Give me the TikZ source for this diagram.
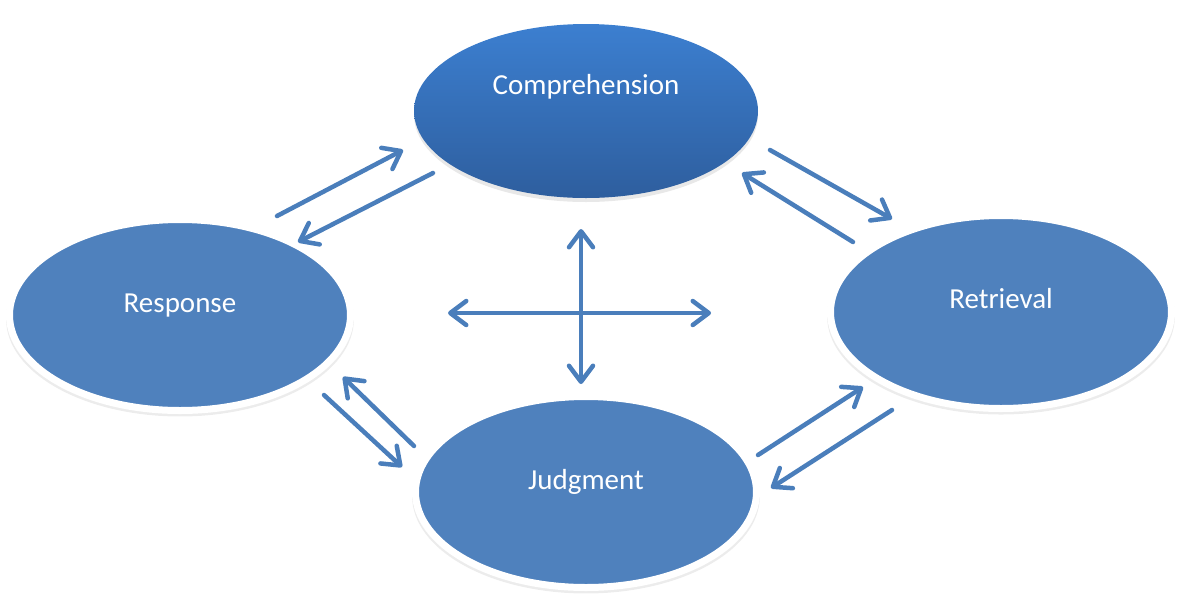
\documentclass[tikz,border=0pt]{standalone}
\usepackage{fontspec}
\setmainfont{Carlito}
\usetikzlibrary{arrows.meta,shapes.geometric,shadows}
\definecolor{nodeblue}{HTML}{4F81BD}
\definecolor{comptop}{HTML}{3C7FD0}
\definecolor{compbot}{HTML}{2E5E9E}
\definecolor{arrowblue}{HTML}{4A7EBB}
\begin{document}
\begin{tikzpicture}[x=1pt,y=-1pt,
  lbl/.style={text=white, font=\fontsize{29}{34}\selectfont},
  stage/.style={ellipse, inner sep=0pt, outer sep=0pt, fill=nodeblue, draw=white, line width=7pt,
    drop shadow={opacity=0.15, shadow xshift=0pt, shadow yshift=-4pt, shadow scale=1.02}},
  topstage/.style={ellipse, inner sep=0pt, outer sep=0pt, draw=none, top color=comptop, bottom color=compbot,
    drop shadow={opacity=0.18, shadow xshift=0pt, shadow yshift=-4pt, shadow scale=1.0}},
  barb/.tip={Straight Barb[length=16pt,width=24pt,line cap=round,line join=round]},
  flow/.style={draw=arrowblue, line width=4.5pt, line cap=round, -barb},
  twoway/.style={draw=arrowblue, line width=4.5pt, line cap=round, barb-barb}
]
\useasboundingbox (0,0) rectangle (1179,598);

% stages
\node[topstage, minimum width=344pt, minimum height=174pt,
      label={[lbl, yshift=24pt]center:Comprehension}] (comp) at (586,111) {};
\node[stage, minimum width=341pt, minimum height=191pt,
      label={[lbl, yshift=9pt]center:Response}] (resp) at (180,315) {};
\node[stage, minimum width=341pt, minimum height=193pt,
      label={[lbl, yshift=13pt]center:Retrieval}] (retr) at (1001,312) {};
\node[stage, minimum width=341pt, minimum height=191pt,
      label={[lbl, yshift=10pt]center:Judgment}] (judg) at (586,492) {};

% arrow end points
\coordinate (a1s) at (277,216); \coordinate (a1e) at (403,150);
\coordinate (a2s) at (433,173); \coordinate (a2e) at (298,242);
\coordinate (b1s) at (770,150); \coordinate (b1e) at (892,219);
\coordinate (b2s) at (853,242); \coordinate (b2e) at (742,173);
\coordinate (c1s) at (758,455); \coordinate (c1e) at (863,387);
\coordinate (c2s) at (892,410); \coordinate (c2e) at (771,488);
\coordinate (d1s) at (324,395); \coordinate (d1e) at (402,467);
\coordinate (d2s) at (414,446); \coordinate (d2e) at (343,377);
\coordinate (hl) at (448,313); \coordinate (hr) at (711,313);
\coordinate (vt) at (581,229); \coordinate (vb) at (581,384);

\draw[flow] (a1s) -- (a1e);
\draw[flow] (a2s) -- (a2e);
\draw[flow] (b1s) -- (b1e);
\draw[flow] (b2s) -- (b2e);
\draw[flow] (c1s) -- (c1e);
\draw[flow] (c2s) -- (c2e);
\draw[flow] (d1s) -- (d1e);
\draw[flow] (d2s) -- (d2e);
\draw[twoway] (hl) -- (hr);
\draw[twoway] (vt) -- (vb);
\end{tikzpicture}
\end{document}
